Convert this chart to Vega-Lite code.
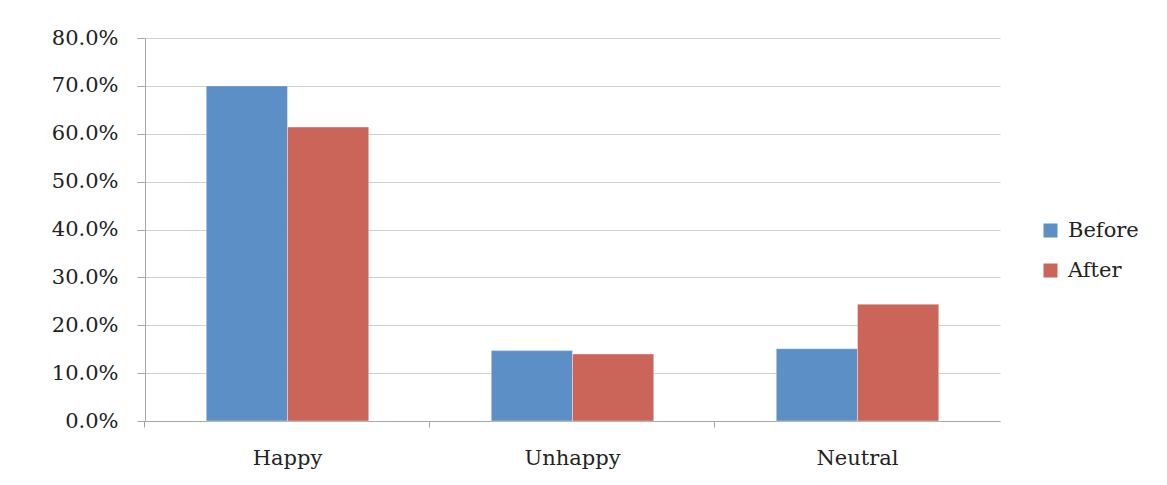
{
  "$schema": "https://vega.github.io/schema/vega-lite/v6.json",
  "width": 855,
  "height": 383,
  "autosize": {"type": "none"},
  "padding": {"left": 145, "top": 38, "right": 167, "bottom": 64},
  "background": "white",
  "config": {
    "view": {"stroke": null},
    "font": "DejaVu Serif"
  },
  "data": {
    "values": [
      {"category": "Happy", "period": "Before", "value": 0.700},
      {"category": "Happy", "period": "After", "value": 0.614},
      {"category": "Unhappy", "period": "Before", "value": 0.147},
      {"category": "Unhappy", "period": "After", "value": 0.140},
      {"category": "Neutral", "period": "Before", "value": 0.151},
      {"category": "Neutral", "period": "After", "value": 0.244}
    ]
  },
  "mark": {"type": "bar", "stroke": "white", "strokeWidth": 0.6, "strokeOpacity": 0.6},
  "encoding": {
    "x": {
      "field": "category",
      "type": "nominal",
      "sort": ["Happy", "Unhappy", "Neutral"],
      "scale": {"paddingInner": 0.43, "paddingOuter": 0.215},
      "axis": {
        "title": null,
        "labelAngle": 0,
        "labelFont": "DejaVu Serif",
        "labelFontSize": 21,
        "labelColor": "#222222",
        "labelPadding": 20,
        "domainColor": "#a6a6a6",
        "tickColor": "#a6a6a6",
        "tickSize": 6,
        "bandPosition": -0.3774,
        "grid": false
      }
    },
    "xOffset": {
      "field": "period",
      "type": "nominal",
      "sort": ["Before", "After"],
      "scale": {"paddingInner": 0, "paddingOuter": 0}
    },
    "y": {
      "field": "value",
      "type": "quantitative",
      "scale": {"domain": [0, 0.8], "nice": false},
      "axis": {
        "title": null,
        "format": ".1%",
        "values": [0, 0.1, 0.2, 0.3, 0.4, 0.5, 0.6, 0.7, 0.8],
        "labelFont": "DejaVu Serif",
        "labelFontSize": 21,
        "labelColor": "#222222",
        "labelPadding": 19,
        "tickSize": 8,
        "tickColor": "#a6a6a6",
        "domainColor": "#a6a6a6",
        "grid": true,
        "gridColor": "#cfcfcf",
        "gridWidth": 1.2
      }
    },
    "color": {
      "field": "period",
      "type": "nominal",
      "sort": ["Before", "After"],
      "scale": {"domain": ["Before", "After"], "range": ["#5B8FC6", "#CB655A"]},
      "legend": {
        "title": null,
        "orient": "none",
        "legendX": 895,
        "legendY": 182,
        "symbolType": "square",
        "symbolSize": 196,
        "symbolStrokeWidth": 0,
        "labelFont": "DejaVu Serif",
        "labelFontSize": 21,
        "labelColor": "#222222",
        "labelOffset": 7,
        "rowPadding": 18
      }
    }
  }
}
